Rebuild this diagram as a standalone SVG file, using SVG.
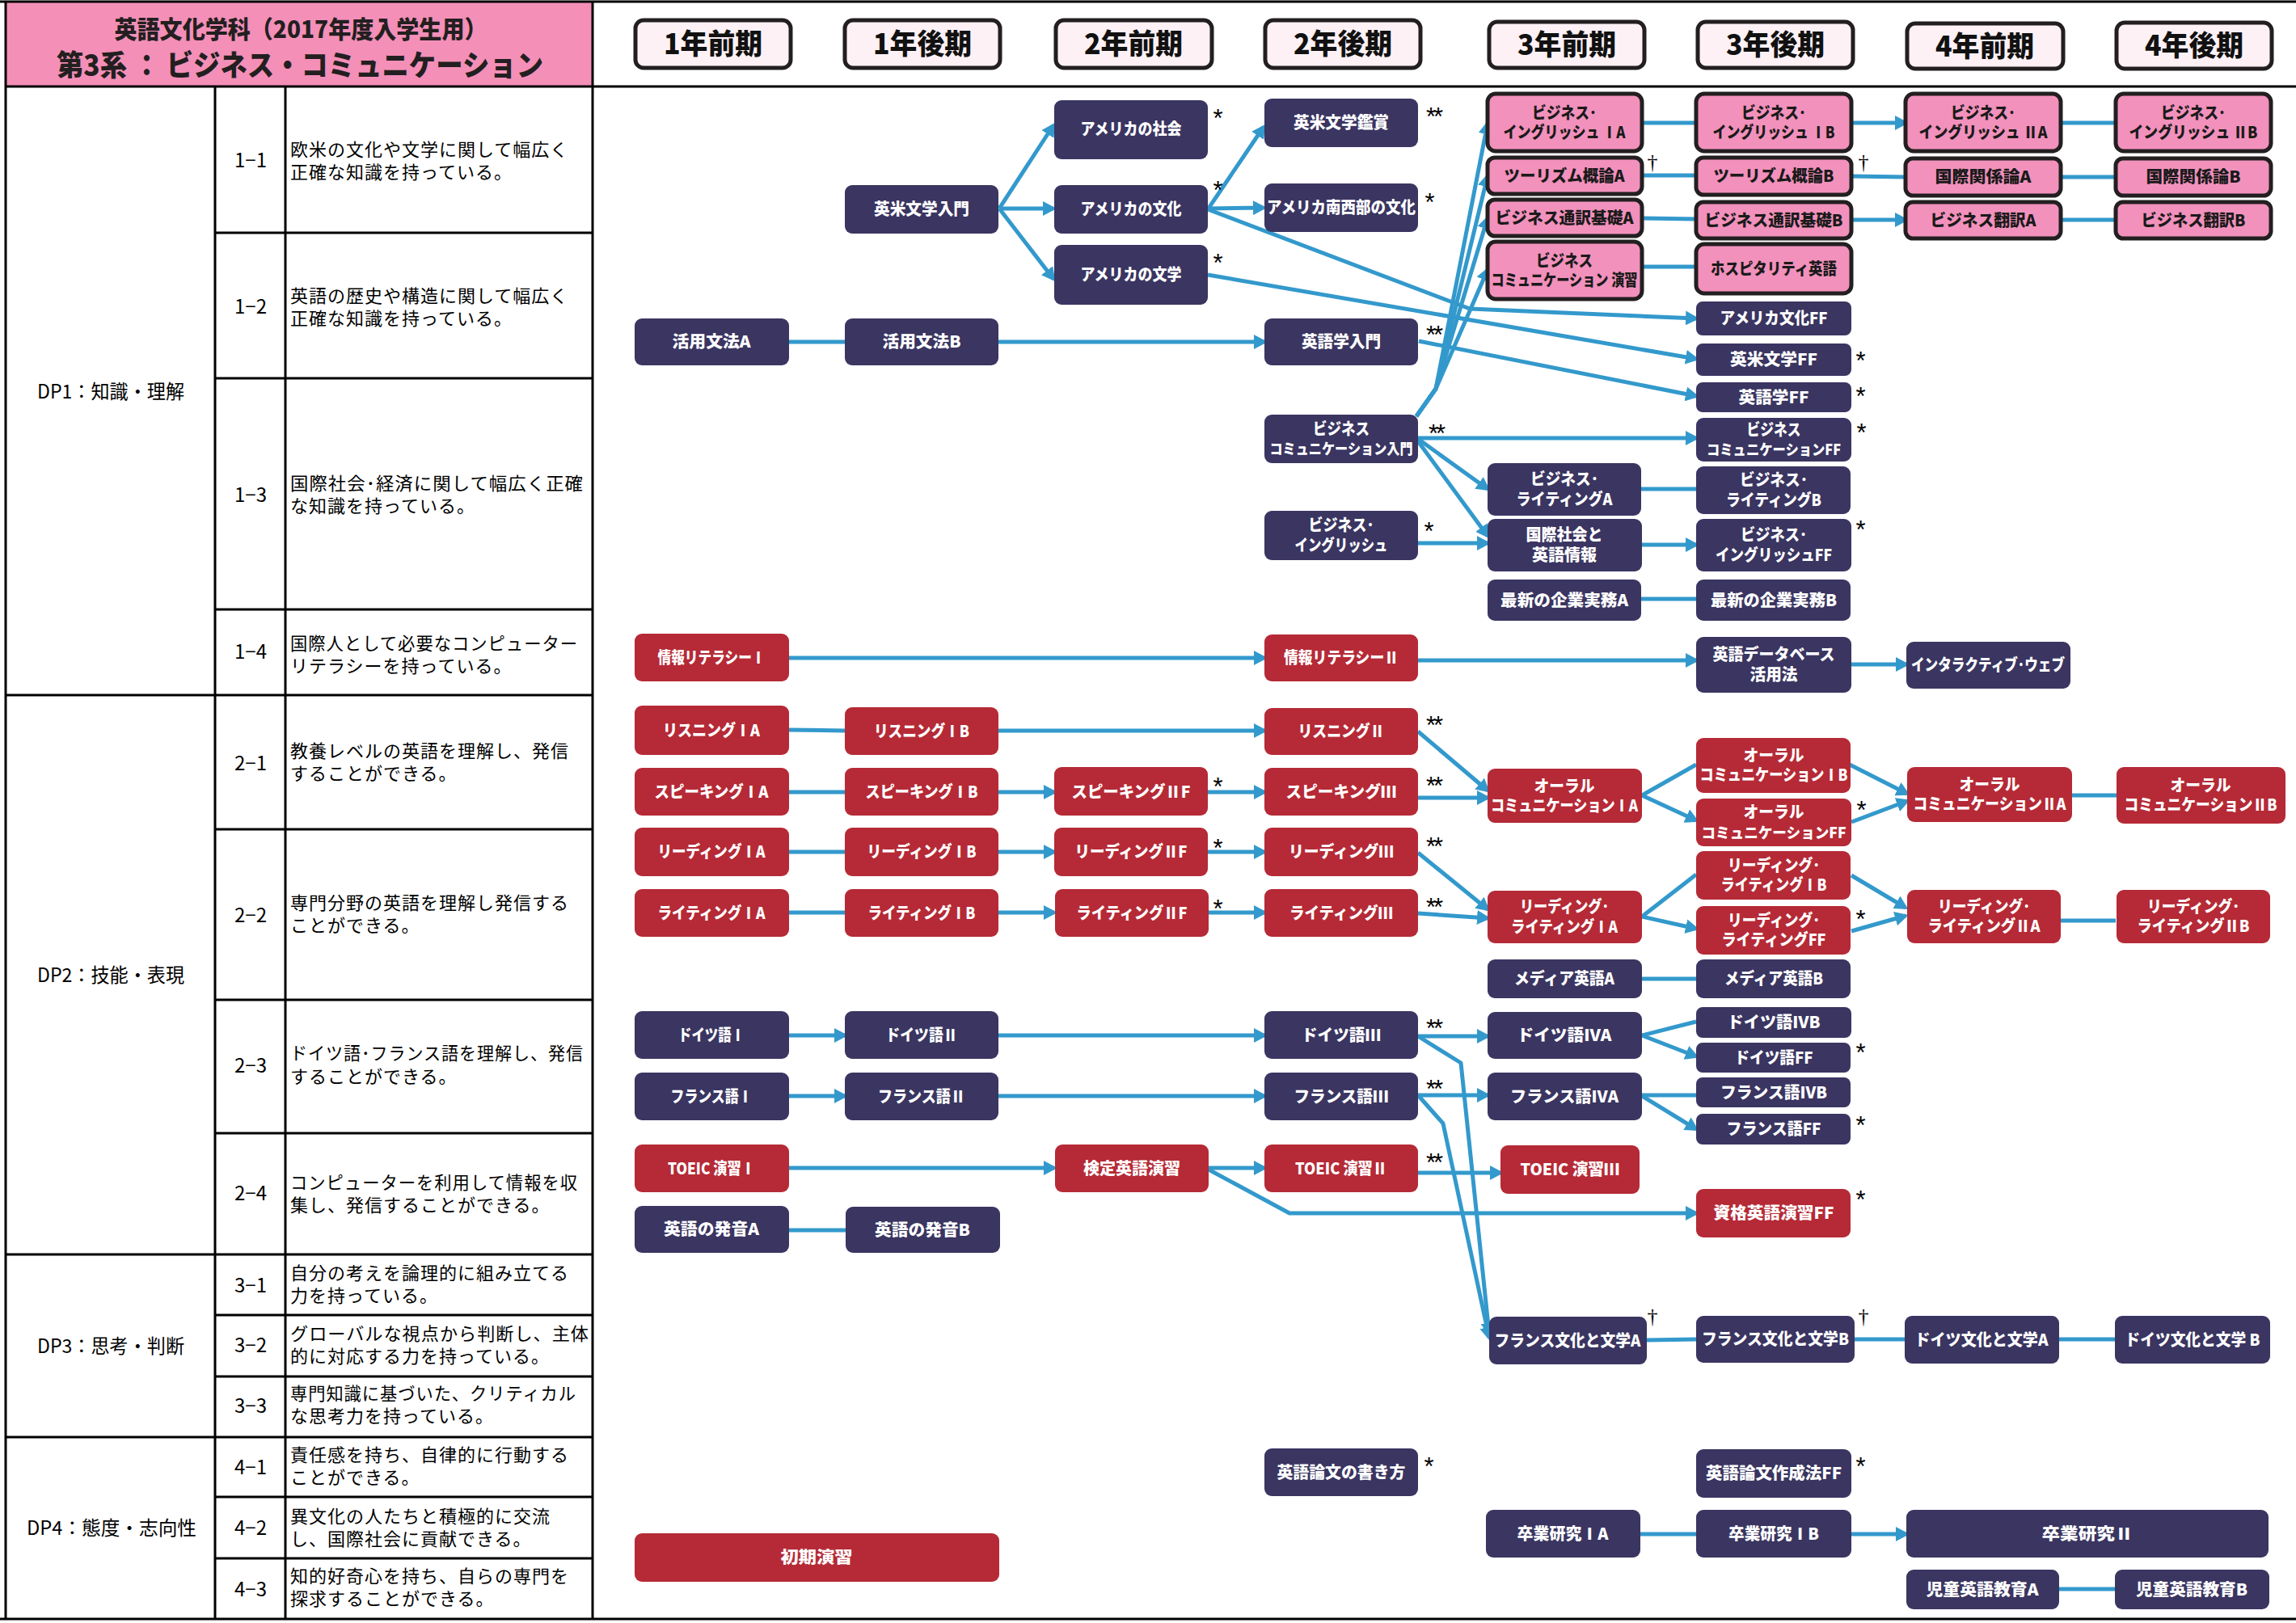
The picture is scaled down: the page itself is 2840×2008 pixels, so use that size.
<svg xmlns="http://www.w3.org/2000/svg" width="2840" height="2008" viewBox="0 0 2840 2008">
<style>
.nd{fill:#3A3561}
.rd{fill:#B52A36}
.pk{fill:#F291BC;stroke:#231F20;stroke-width:5}
.hd{fill:#FDF1F6;stroke:#231F20;stroke-width:5}
.t{font-family:"Noto Sans CJK JP","Noto Sans",sans-serif;font-weight:900;font-size:20px;fill:#fff;text-anchor:middle}
.k{fill:#1a1a1a}
.h{font-family:"Noto Sans CJK JP","Noto Sans",sans-serif;font-weight:900;font-size:35px;fill:#111;text-anchor:middle}
.c{stroke:#3399CC;stroke-width:5;fill:none;stroke-linejoin:round}
.a{marker-end:url(#ah)}
.mk{font-family:"Liberation Sans",sans-serif;font-size:31px;fill:#000;text-anchor:middle;letter-spacing:-3px}
.dg{font-family:"Liberation Serif",serif;font-size:26px;fill:#000;text-anchor:middle}
.tb{stroke:#000;stroke-width:3;fill:none}
.tx{font-family:"Noto Sans CJK JP",sans-serif;font-size:22px;letter-spacing:1px;fill:#000}
.dp{font-family:"Noto Sans CJK JP",sans-serif;font-size:24px;fill:#000;text-anchor:middle}
.tt{font-family:"Noto Sans CJK JP",sans-serif;font-weight:900;fill:#231F20;text-anchor:middle}
</style>
<defs>
<marker id="ah" markerWidth="17" markerHeight="18" refX="13" refY="9" orient="auto" markerUnits="userSpaceOnUse"><path d="M0,0 L17,9 L0,18 Z" fill="#3399CC"/></marker>
</defs>
<rect width="2840" height="2008" fill="#fff"/>

<g id="table">
<rect x="7" y="3" width="726" height="104" fill="#F48FB8"/>
<text class="tt"><tspan x="372" y="47" font-size="30" textLength="461" lengthAdjust="spacingAndGlyphs">英語文化学科（2017年度入学生用）</tspan><tspan x="371" y="94" font-size="36" textLength="602" lengthAdjust="spacingAndGlyphs">第3系 ： ビジネス・コミュニケーション</tspan></text>
<path class="tb" d="M0,2 H2840 M7,107 H2840 M0,2003 H2840 M7,2 V2003 M733,2 V2003 M266,107 V2003 M353,107 V2003 M7,860 H733 M7,1552 H733 M7,1778 H733 M266,288 H733 M266,468 H733 M266,754 H733 M266,1026 H733 M266,1237 H733 M266,1402 H733 M266,1627 H733 M266,1703 H733 M266,1852 H733 M266,1928 H733"/>
<text class="dp" x="137" y="493" textLength="182" lengthAdjust="spacingAndGlyphs">DP1：知識・理解</text>
<text class="dp" x="137" y="1215" textLength="182" lengthAdjust="spacingAndGlyphs">DP2：技能・表現</text>
<text class="dp" x="137" y="1674" textLength="182" lengthAdjust="spacingAndGlyphs">DP3：思考・判断</text>
<text class="dp" x="138" y="1899" textLength="210" lengthAdjust="spacingAndGlyphs">DP4：態度・志向性</text>
<text class="dp" x="310" y="207">1−1</text>
<text class="dp" x="310" y="388">1−2</text>
<text class="dp" x="310" y="621">1−3</text>
<text class="dp" x="310" y="815">1−4</text>
<text class="dp" x="310" y="953">2−1</text>
<text class="dp" x="310" y="1141">2−2</text>
<text class="dp" x="310" y="1327">2−3</text>
<text class="dp" x="310" y="1485">2−4</text>
<text class="dp" x="310" y="1599">3−1</text>
<text class="dp" x="310" y="1673">3−2</text>
<text class="dp" x="310" y="1748">3−3</text>
<text class="dp" x="310" y="1824">4−1</text>
<text class="dp" x="310" y="1899">4−2</text>
<text class="dp" x="310" y="1975">4−3</text>
<text class="tx"><tspan x="359" y="193">欧米の文化や文学に関して幅広く</tspan><tspan x="359" y="221">正確な知識を持っている。</tspan></text>
<text class="tx"><tspan x="359" y="374">英語の歴史や構造に関して幅広く</tspan><tspan x="359" y="402">正確な知識を持っている。</tspan></text>
<text class="tx"><tspan x="359" y="606" textLength="363" lengthAdjust="spacingAndGlyphs">国際社会･経済に関して幅広く正確</tspan><tspan x="359" y="634">な知識を持っている。</tspan></text>
<text class="tx"><tspan x="359" y="804" textLength="356" lengthAdjust="spacingAndGlyphs">国際人として必要なコンピューター</tspan><tspan x="359" y="832">リテラシーを持っている。</tspan></text>
<text class="tx"><tspan x="359" y="937">教養レベルの英語を理解し、発信</tspan><tspan x="359" y="965">することができる。</tspan></text>
<text class="tx"><tspan x="359" y="1125">専門分野の英語を理解し発信する</tspan><tspan x="359" y="1153">ことができる。</tspan></text>
<text class="tx"><tspan x="359" y="1311" textLength="363" lengthAdjust="spacingAndGlyphs">ドイツ語･フランス語を理解し、発信</tspan><tspan x="359" y="1340">することができる。</tspan></text>
<text class="tx"><tspan x="359" y="1471" textLength="356" lengthAdjust="spacingAndGlyphs">コンピューターを利用して情報を収</tspan><tspan x="359" y="1499">集し、発信することができる。</tspan></text>
<text class="tx"><tspan x="359" y="1583">自分の考えを論理的に組み立てる</tspan><tspan x="359" y="1611">力を持っている。</tspan></text>
<text class="tx"><tspan x="359" y="1658" textLength="370" lengthAdjust="spacingAndGlyphs">グローバルな視点から判断し、主体</tspan><tspan x="359" y="1686">的に対応する力を持っている。</tspan></text>
<text class="tx"><tspan x="359" y="1732" textLength="354" lengthAdjust="spacingAndGlyphs">専門知識に基づいた、クリティカル</tspan><tspan x="359" y="1760">な思考力を持っている。</tspan></text>
<text class="tx"><tspan x="359" y="1808">責任感を持ち、自律的に行動する</tspan><tspan x="359" y="1836">ことができる。</tspan></text>
<text class="tx"><tspan x="359" y="1884">異文化の人たちと積極的に交流</tspan><tspan x="359" y="1912">し、国際社会に貢献できる。</tspan></text>
<text class="tx"><tspan x="359" y="1958">知的好奇心を持ち、自らの専門を</tspan><tspan x="359" y="1986">探求することができる。</tspan></text>
</g>

<g id="headers">
<g id="h1"><rect class="hd" x="786" y="25" width="192" height="59" rx="10"/><text class="h" x="882" y="67" textLength="122" lengthAdjust="spacingAndGlyphs">1年前期</text></g>
<g id="h2"><rect class="hd" x="1045" y="25" width="192" height="59" rx="10"/><text class="h" x="1141" y="67" textLength="122" lengthAdjust="spacingAndGlyphs">1年後期</text></g>
<g id="h3"><rect class="hd" x="1306" y="25" width="193" height="59" rx="10"/><text class="h" x="1402" y="67" textLength="122" lengthAdjust="spacingAndGlyphs">2年前期</text></g>
<g id="h4"><rect class="hd" x="1565" y="25" width="192" height="59" rx="10"/><text class="h" x="1661" y="67" textLength="122" lengthAdjust="spacingAndGlyphs">2年後期</text></g>
<g id="h5"><rect class="hd" x="1842" y="27" width="192" height="57" rx="10"/><text class="h" x="1938" y="68" textLength="122" lengthAdjust="spacingAndGlyphs">3年前期</text></g>
<g id="h6"><rect class="hd" x="2100" y="27" width="192" height="57" rx="10"/><text class="h" x="2196" y="68" textLength="122" lengthAdjust="spacingAndGlyphs">3年後期</text></g>
<g id="h7"><rect class="hd" x="2359" y="29" width="193" height="56" rx="10"/><text class="h" x="2455" y="70" textLength="122" lengthAdjust="spacingAndGlyphs">4年前期</text></g>
<g id="h8"><rect class="hd" x="2618" y="28" width="192" height="57" rx="10"/><text class="h" x="2714" y="69" textLength="122" lengthAdjust="spacingAndGlyphs">4年後期</text></g>
</g>

<g id="connectors">
<path class="c a" d="M1236,258 L1303,155"/>
<path class="c a" d="M1236,258 L1303,258"/>
<path class="c a" d="M1236,258 L1303,345"/>
<path class="c a" d="M1494,259 L1563,157"/>
<path class="c a" d="M1494,258 L1563,257"/>
<path class="c a" d="M1494,259 L1818,382 L2098,394"/>
<path class="c a" d="M1494,340 L2098,444"/>
<path class="c a" d="M1755,422 L2098,490"/>
<path class="c" d="M976,423 L1045,423"/>
<path class="c a" d="M1235,423 L1564,423"/>
<path class="c a" d="M1752,515 L1776,481 L1840,153"/>
<path class="c a" d="M1752,515 L1776,481 L1840,218"/>
<path class="c a" d="M1752,515 L1776,481 L1840,270"/>
<path class="c a" d="M1752,515 L1776,481 L1840,334"/>
<path class="c a" d="M1754,542 L2098,542"/>
<path class="c a" d="M1754,543 L1840,605"/>
<path class="c a" d="M1754,546 L1840,663"/>
<path class="c a" d="M1754,672 L1840,672"/>
<path class="c" d="M2031,152 L2098,152"/>
<path class="c a" d="M2290,152 L2357,152"/>
<path class="c" d="M2549,152 L2617,152"/>
<path class="c" d="M2031,217 L2098,217"/>
<path class="c" d="M2290,218 L2357,219"/>
<path class="c" d="M2549,219 L2617,219"/>
<path class="c" d="M2031,270 L2098,271"/>
<path class="c a" d="M2290,272 L2357,272"/>
<path class="c" d="M2549,272 L2617,272"/>
<path class="c" d="M2031,330 L2098,330"/>
<path class="c" d="M2029,605 L2098,605"/>
<path class="c a" d="M2031,674 L2098,674"/>
<path class="c" d="M2029,741 L2098,741"/>
<path class="c a" d="M976,814 L1564,814"/>
<path class="c a" d="M1754,817 L2098,817"/>
<path class="c a" d="M2290,822 L2358,822"/>

<path class="c" d="M976,903 L1045,904"/>
<path class="c a" d="M1235,904 L1564,904"/>
<path class="c a" d="M1754,905 L1840,978"/>
<path class="c" d="M976,980 L1045,980"/>
<path class="c a" d="M1235,980 L1304,980"/>
<path class="c a" d="M1494,980 L1564,980"/>
<path class="c a" d="M1754,987 L1840,987"/>
<path class="c" d="M976,1054 L1045,1054"/>
<path class="c a" d="M1235,1054 L1304,1054"/>
<path class="c a" d="M1494,1054 L1564,1054"/>
<path class="c a" d="M1754,1055 L1840,1125"/>
<path class="c" d="M976,1129 L1045,1129"/>
<path class="c a" d="M1235,1129 L1304,1129"/>
<path class="c a" d="M1495,1129 L1564,1129"/>
<path class="c a" d="M1754,1130 L1840,1136"/>
<path class="c" d="M2031,984 L2098,946"/>
<path class="c a" d="M2031,984 L2098,1015"/>
<path class="c a" d="M2288,946 L2359,982"/>
<path class="c a" d="M2290,1017 L2359,991"/>
<path class="c" d="M2563,984 L2618,984"/>
<path class="c" d="M2031,1134 L2098,1082"/>
<path class="c a" d="M2031,1134 L2098,1149"/>
<path class="c a" d="M2290,1083 L2357,1123"/>
<path class="c a" d="M2290,1152 L2357,1133"/>
<path class="c" d="M2549,1139 L2617,1139"/>
<path class="c" d="M2031,1211 L2098,1211"/>
<path class="c a" d="M976,1281 L1045,1281"/>
<path class="c a" d="M1235,1281 L1564,1281"/>
<path class="c a" d="M1754,1282 L1840,1282"/>
<path class="c a" d="M1754,1282 L1807,1315 L1842,1650"/>
<path class="c a" d="M976,1356 L1045,1356"/>
<path class="c a" d="M1235,1356 L1564,1356"/>
<path class="c a" d="M1754,1355 L1840,1355"/>
<path class="c a" d="M1754,1355 L1785,1390 L1842,1655"/>
<path class="c" d="M2031,1281 L2098,1264"/>
<path class="c a" d="M2031,1281 L2098,1307"/>
<path class="c" d="M2031,1355 L2098,1355"/>
<path class="c a" d="M2031,1356 L2098,1397"/>
<path class="c a" d="M976,1445 L1304,1445"/>
<path class="c a" d="M1495,1445 L1564,1445"/>
<path class="c a" d="M1495,1447 L1595,1501 L2098,1501"/>
<path class="c a" d="M1754,1451 L1856,1451"/>
<path class="c" d="M976,1522 L1046,1522"/>
<path class="c" d="M2037,1658 L2098,1657"/>
<path class="c" d="M2294,1657 L2356,1657"/>
<path class="c" d="M2547,1657 L2616,1657"/>
<path class="c" d="M2029,1898 L2098,1898"/>
<path class="c a" d="M2290,1898 L2358,1898"/>
<path class="c" d="M2547,1966 L2616,1966"/>
</g>

<g id="nodes">
<g id="n-amsoc"><rect class="nd" x="1304" y="124" width="190" height="73" rx="9"/><text class="t" x="1399" y="167" textLength="125" lengthAdjust="spacingAndGlyphs">アメリカの社会</text></g>
<g id="n-eibunkansho"><rect class="nd" x="1564" y="122" width="190" height="60" rx="9"/><text class="t" x="1659" y="159" textLength="118" lengthAdjust="spacingAndGlyphs">英米文学鑑賞</text></g>
<g id="n-eibunnyumon"><rect class="nd" x="1045" y="229" width="190" height="60" rx="9"/><text class="t" x="1140" y="266" textLength="118" lengthAdjust="spacingAndGlyphs">英米文学入門</text></g>
<g id="n-amcul"><rect class="nd" x="1304" y="229" width="190" height="60" rx="9"/><text class="t" x="1399" y="266" textLength="125" lengthAdjust="spacingAndGlyphs">アメリカの文化</text></g>
<g id="n-amsw"><rect class="nd" x="1564" y="227" width="190" height="60" rx="9"/><text class="t" x="1659" y="264" font-size="19" textLength="184" lengthAdjust="spacingAndGlyphs">アメリカ南西部の文化</text></g>
<g id="n-amlit"><rect class="nd" x="1304" y="303" width="190" height="74" rx="9"/><text class="t" x="1399" y="347" textLength="125" lengthAdjust="spacingAndGlyphs">アメリカの文学</text></g>
<g id="n-katsuyoA"><rect class="nd" x="785" y="394" width="191" height="58" rx="9"/><text class="t" x="880" y="430" textLength="97" lengthAdjust="spacingAndGlyphs">活用文法A</text></g>
<g id="n-katsuyoB"><rect class="nd" x="1045" y="394" width="190" height="58" rx="9"/><text class="t" x="1140" y="430" textLength="97" lengthAdjust="spacingAndGlyphs">活用文法B</text></g>
<g id="n-eigogaku"><rect class="nd" x="1564" y="394" width="190" height="58" rx="9"/><text class="t" x="1659" y="430" textLength="98" lengthAdjust="spacingAndGlyphs">英語学入門</text></g>

<g id="n-beIA"><rect class="pk" x="1840" y="116" width="191" height="71" rx="10"/><text class="t k"><tspan x="1935" y="147" textLength="80" lengthAdjust="spacingAndGlyphs">ビジネス･</tspan><tspan x="1935" y="171" textLength="151" lengthAdjust="spacingAndGlyphs">イングリッシュ ⅠA</tspan></text></g>
<g id="n-beIB"><rect class="pk" x="2098" y="116" width="192" height="71" rx="10"/><text class="t k"><tspan x="2194" y="147" textLength="80" lengthAdjust="spacingAndGlyphs">ビジネス･</tspan><tspan x="2194" y="171" textLength="151" lengthAdjust="spacingAndGlyphs">イングリッシュ ⅠB</tspan></text></g>
<g id="n-beIIA"><rect class="pk" x="2357" y="116" width="192" height="71" rx="10"/><text class="t k"><tspan x="2453" y="147" textLength="80" lengthAdjust="spacingAndGlyphs">ビジネス･</tspan><tspan x="2453" y="171" textLength="159" lengthAdjust="spacingAndGlyphs">イングリッシュ ⅡA</tspan></text></g>
<g id="n-beIIB"><rect class="pk" x="2617" y="116" width="192" height="71" rx="10"/><text class="t k"><tspan x="2713" y="147" textLength="80" lengthAdjust="spacingAndGlyphs">ビジネス･</tspan><tspan x="2713" y="171" textLength="159" lengthAdjust="spacingAndGlyphs">イングリッシュ ⅡB</tspan></text></g>
<g id="n-tourA"><rect class="pk" x="1840" y="195" width="191" height="45" rx="9"/><text class="t k" x="1935" y="225" textLength="149" lengthAdjust="spacingAndGlyphs">ツーリズム概論A</text></g>
<g id="n-tourB"><rect class="pk" x="2098" y="195" width="192" height="46" rx="9"/><text class="t k" x="2194" y="225" textLength="149" lengthAdjust="spacingAndGlyphs">ツーリズム概論B</text></g>
<g id="n-irA"><rect class="pk" x="2357" y="196" width="192" height="46" rx="9"/><text class="t k" x="2453" y="226" textLength="119" lengthAdjust="spacingAndGlyphs">国際関係論A</text></g>
<g id="n-irB"><rect class="pk" x="2617" y="196" width="192" height="46" rx="9"/><text class="t k" x="2713" y="226" textLength="117" lengthAdjust="spacingAndGlyphs">国際関係論B</text></g>
<g id="n-tsuyakuA"><rect class="pk" x="1840" y="247" width="191" height="45" rx="9"/><text class="t k" x="1935" y="277" textLength="171" lengthAdjust="spacingAndGlyphs">ビジネス通訳基礎A</text></g>
<g id="n-tsuyakuB"><rect class="pk" x="2098" y="250" width="192" height="45" rx="9"/><text class="t k" x="2194" y="280" textLength="171" lengthAdjust="spacingAndGlyphs">ビジネス通訳基礎B</text></g>
<g id="n-honyakuA"><rect class="pk" x="2357" y="250" width="192" height="45" rx="9"/><text class="t k" x="2453" y="280" textLength="131" lengthAdjust="spacingAndGlyphs">ビジネス翻訳A</text></g>
<g id="n-honyakuB"><rect class="pk" x="2617" y="250" width="192" height="45" rx="9"/><text class="t k" x="2713" y="280" textLength="129" lengthAdjust="spacingAndGlyphs">ビジネス翻訳B</text></g>
<g id="n-bcEnshu"><rect class="pk" x="1840" y="299" width="191" height="71" rx="10"/><text class="t k"><tspan x="1935" y="330" textLength="70" lengthAdjust="spacingAndGlyphs">ビジネス</tspan><tspan x="1935" y="354" textLength="181" lengthAdjust="spacingAndGlyphs">コミュニケーション 演習</tspan></text></g>
<g id="n-hospitality"><rect class="pk" x="2098" y="302" width="192" height="61" rx="10"/><text class="t k" x="2194" y="340" textLength="156" lengthAdjust="spacingAndGlyphs">ホスピタリティ英語</text></g>
<g id="n-amculFF"><rect class="nd" x="2098" y="373" width="192" height="42" rx="8"/><text class="t" x="2194" y="401" textLength="133" lengthAdjust="spacingAndGlyphs">アメリカ文化FF</text></g>
<g id="n-eibunFF"><rect class="nd" x="2098" y="425" width="192" height="40" rx="8"/><text class="t" x="2194" y="452" textLength="108" lengthAdjust="spacingAndGlyphs">英米文学FF</text></g>
<g id="n-eigogakuFF"><rect class="nd" x="2098" y="473" width="192" height="37" rx="8"/><text class="t" x="2194" y="499" textLength="87" lengthAdjust="spacingAndGlyphs">英語学FF</text></g>
<g id="n-bcNyumon"><rect class="nd" x="1564" y="513" width="190" height="60" rx="9"/><text class="t"><tspan x="1659" y="538" textLength="70" lengthAdjust="spacingAndGlyphs">ビジネス</tspan><tspan x="1659" y="562" font-size="18" textLength="177" lengthAdjust="spacingAndGlyphs">コミュニケーション入門</tspan></text></g>
<g id="n-bcFF"><rect class="nd" x="2098" y="517" width="192" height="54" rx="9"/><text class="t"><tspan x="2194" y="539" textLength="67" lengthAdjust="spacingAndGlyphs">ビジネス</tspan><tspan x="2194" y="563" font-size="18" textLength="166" lengthAdjust="spacingAndGlyphs">コミュニケーションFF</tspan></text></g>
<g id="n-bwA"><rect class="nd" x="1840" y="573" width="190" height="65" rx="9"/><text class="t"><tspan x="1935" y="600" textLength="84" lengthAdjust="spacingAndGlyphs">ビジネス･</tspan><tspan x="1935" y="625" textLength="119" lengthAdjust="spacingAndGlyphs">ライティングA</tspan></text></g>
<g id="n-bwB"><rect class="nd" x="2098" y="577" width="191" height="59" rx="9"/><text class="t"><tspan x="2194" y="601" textLength="84" lengthAdjust="spacingAndGlyphs">ビジネス･</tspan><tspan x="2194" y="626" textLength="118" lengthAdjust="spacingAndGlyphs">ライティングB</tspan></text></g>
<g id="n-be2"><rect class="nd" x="1564" y="632" width="190" height="61" rx="9"/><text class="t"><tspan x="1659" y="657" textLength="81" lengthAdjust="spacingAndGlyphs">ビジネス･</tspan><tspan x="1659" y="682" textLength="115" lengthAdjust="spacingAndGlyphs">イングリッシュ</tspan></text></g>
<g id="n-kokusai"><rect class="nd" x="1840" y="642" width="191" height="65" rx="9"/><text class="t"><tspan x="1935" y="669" textLength="95" lengthAdjust="spacingAndGlyphs">国際社会と</tspan><tspan x="1935" y="694" textLength="80" lengthAdjust="spacingAndGlyphs">英語情報</tspan></text></g>
<g id="n-beFF"><rect class="nd" x="2098" y="642" width="192" height="65" rx="9"/><text class="t"><tspan x="2194" y="669" textLength="82" lengthAdjust="spacingAndGlyphs">ビジネス･</tspan><tspan x="2194" y="694" textLength="144" lengthAdjust="spacingAndGlyphs">イングリッシュFF</tspan></text></g>
<g id="n-kigyoA"><rect class="nd" x="1840" y="717" width="190" height="51" rx="9"/><text class="t" x="1935" y="750" textLength="158" lengthAdjust="spacingAndGlyphs">最新の企業実務A</text></g>
<g id="n-kigyoB"><rect class="nd" x="2098" y="717" width="191" height="51" rx="9"/><text class="t" x="2194" y="750" textLength="156" lengthAdjust="spacingAndGlyphs">最新の企業実務B</text></g>
<g id="n-johoI"><rect class="rd" x="785" y="784" width="191" height="59" rx="9"/><text class="t" x="880" y="821" textLength="133" lengthAdjust="spacingAndGlyphs">情報リテラシーⅠ</text></g>
<g id="n-johoII"><rect class="rd" x="1564" y="785" width="190" height="58" rx="9"/><text class="t" x="1659" y="821" textLength="142" lengthAdjust="spacingAndGlyphs">情報リテラシーⅡ</text></g>
<g id="n-database"><rect class="nd" x="2098" y="788" width="192" height="69" rx="9"/><text class="t"><tspan x="2194" y="817" textLength="151" lengthAdjust="spacingAndGlyphs">英語データベース</tspan><tspan x="2194" y="842" textLength="59" lengthAdjust="spacingAndGlyphs">活用法</tspan></text></g>
<g id="n-interactive"><rect class="nd" x="2358" y="794" width="203" height="58" rx="9"/><text class="t" x="2459" y="830" textLength="190" lengthAdjust="spacingAndGlyphs">インタラクティブ･ウェブ</text></g>

<g id="n-lisIA"><rect class="rd" x="785" y="873" width="191" height="61" rx="9"/><text class="t" x="880" y="911" textLength="120" lengthAdjust="spacingAndGlyphs">リスニングⅠA</text></g>
<g id="n-lisIB"><rect class="rd" x="1045" y="875" width="190" height="59" rx="9"/><text class="t" x="1140" y="912" textLength="118" lengthAdjust="spacingAndGlyphs">リスニングⅠB</text></g>
<g id="n-lisII"><rect class="rd" x="1564" y="876" width="190" height="58" rx="9"/><text class="t" x="1659" y="912" textLength="107" lengthAdjust="spacingAndGlyphs">リスニングⅡ</text></g>
<g id="n-spkIA"><rect class="rd" x="785" y="950" width="191" height="59" rx="9"/><text class="t" x="880" y="987" textLength="141" lengthAdjust="spacingAndGlyphs">スピーキングⅠA</text></g>
<g id="n-spkIB"><rect class="rd" x="1045" y="950" width="190" height="59" rx="9"/><text class="t" x="1140" y="987" textLength="139" lengthAdjust="spacingAndGlyphs">スピーキングⅠB</text></g>
<g id="n-spkIIF"><rect class="rd" x="1304" y="949" width="190" height="60" rx="9"/><text class="t" x="1399" y="987" textLength="147" lengthAdjust="spacingAndGlyphs">スピーキングⅡF</text></g>
<g id="n-spkIII"><rect class="rd" x="1564" y="950" width="190" height="59" rx="9"/><text class="t" x="1659" y="987" textLength="137" lengthAdjust="spacingAndGlyphs">スピーキングⅢ</text></g>
<g id="n-rdIA"><rect class="rd" x="785" y="1024" width="191" height="60" rx="9"/><text class="t" x="880" y="1061" textLength="133" lengthAdjust="spacingAndGlyphs">リーディングⅠA</text></g>
<g id="n-rdIB"><rect class="rd" x="1045" y="1024" width="190" height="60" rx="9"/><text class="t" x="1140" y="1061" textLength="135" lengthAdjust="spacingAndGlyphs">リーディングⅠB</text></g>
<g id="n-rdIIF"><rect class="rd" x="1304" y="1024" width="190" height="60" rx="9"/><text class="t" x="1399" y="1061" textLength="139" lengthAdjust="spacingAndGlyphs">リーディングⅡF</text></g>
<g id="n-rdIII"><rect class="rd" x="1564" y="1024" width="190" height="60" rx="9"/><text class="t" x="1659" y="1061" textLength="130" lengthAdjust="spacingAndGlyphs">リーディングⅢ</text></g>
<g id="n-wrIA"><rect class="rd" x="785" y="1100" width="191" height="59" rx="9"/><text class="t" x="880" y="1137" textLength="133" lengthAdjust="spacingAndGlyphs">ライティングⅠA</text></g>
<g id="n-wrIB"><rect class="rd" x="1045" y="1100" width="190" height="59" rx="9"/><text class="t" x="1140" y="1137" textLength="133" lengthAdjust="spacingAndGlyphs">ライティングⅠB</text></g>
<g id="n-wrIIF"><rect class="rd" x="1305" y="1100" width="190" height="59" rx="9"/><text class="t" x="1400" y="1137" textLength="137" lengthAdjust="spacingAndGlyphs">ライティングⅡF</text></g>
<g id="n-wrIII"><rect class="rd" x="1564" y="1100" width="190" height="59" rx="9"/><text class="t" x="1659" y="1137" textLength="128" lengthAdjust="spacingAndGlyphs">ライティングⅢ</text></g>
<g id="n-oralIA"><rect class="rd" x="1840" y="951" width="191" height="67" rx="9"/><text class="t"><tspan x="1935" y="980" textLength="75" lengthAdjust="spacingAndGlyphs">オーラル</tspan><tspan x="1935" y="1004" textLength="182" lengthAdjust="spacingAndGlyphs">コミュニケーションⅠA</tspan></text></g>
<g id="n-oralIB"><rect class="rd" x="2098" y="913" width="191" height="68" rx="9"/><text class="t"><tspan x="2194" y="942" textLength="75" lengthAdjust="spacingAndGlyphs">オーラル</tspan><tspan x="2194" y="966" textLength="183" lengthAdjust="spacingAndGlyphs">コミュニケーションⅠB</tspan></text></g>
<g id="n-oralFF"><rect class="rd" x="2098" y="988" width="192" height="59" rx="9"/><text class="t"><tspan x="2194" y="1012" textLength="75" lengthAdjust="spacingAndGlyphs">オーラル</tspan><tspan x="2194" y="1037" font-size="18" textLength="179" lengthAdjust="spacingAndGlyphs">コミュニケーションFF</tspan></text></g>
<g id="n-oralIIA"><rect class="rd" x="2359" y="949" width="204" height="68" rx="9"/><text class="t"><tspan x="2461" y="978" textLength="75" lengthAdjust="spacingAndGlyphs">オーラル</tspan><tspan x="2461" y="1002" textLength="189" lengthAdjust="spacingAndGlyphs">コミュニケーションⅡA</tspan></text></g>
<g id="n-oralIIB"><rect class="rd" x="2618" y="949" width="209" height="70" rx="9"/><text class="t"><tspan x="2722" y="979" textLength="75" lengthAdjust="spacingAndGlyphs">オーラル</tspan><tspan x="2722" y="1003" textLength="189" lengthAdjust="spacingAndGlyphs">コミュニケーションⅡB</tspan></text></g>
<g id="n-rwIA"><rect class="rd" x="1840" y="1102" width="191" height="65" rx="9"/><text class="t"><tspan x="1935" y="1129" textLength="110" lengthAdjust="spacingAndGlyphs">リーディング･</tspan><tspan x="1935" y="1154" textLength="132" lengthAdjust="spacingAndGlyphs">ライティングⅠA</tspan></text></g>
<g id="n-rwIB"><rect class="rd" x="2098" y="1053" width="191" height="60" rx="9"/><text class="t"><tspan x="2194" y="1078" textLength="114" lengthAdjust="spacingAndGlyphs">リーディング･</tspan><tspan x="2194" y="1102" textLength="131" lengthAdjust="spacingAndGlyphs">ライティングⅠB</tspan></text></g>
<g id="n-rwFF"><rect class="rd" x="2098" y="1121" width="191" height="60" rx="9"/><text class="t"><tspan x="2194" y="1146" textLength="114" lengthAdjust="spacingAndGlyphs">リーディング･</tspan><tspan x="2194" y="1170" textLength="129" lengthAdjust="spacingAndGlyphs">ライティングFF</tspan></text></g>
<g id="n-rwIIA"><rect class="rd" x="2359" y="1101" width="190" height="66" rx="9"/><text class="t"><tspan x="2454" y="1129" textLength="114" lengthAdjust="spacingAndGlyphs">リーディング･</tspan><tspan x="2454" y="1153" textLength="139" lengthAdjust="spacingAndGlyphs">ライティングⅡA</tspan></text></g>
<g id="n-rwIIB"><rect class="rd" x="2618" y="1101" width="190" height="66" rx="9"/><text class="t"><tspan x="2713" y="1129" textLength="114" lengthAdjust="spacingAndGlyphs">リーディング･</tspan><tspan x="2713" y="1153" textLength="139" lengthAdjust="spacingAndGlyphs">ライティングⅡB</tspan></text></g>
<g id="n-mediaA"><rect class="nd" x="1840" y="1187" width="191" height="48" rx="9"/><text class="t" x="1935" y="1218" textLength="124" lengthAdjust="spacingAndGlyphs">メディア英語A</text></g>
<g id="n-mediaB"><rect class="nd" x="2098" y="1187" width="191" height="48" rx="9"/><text class="t" x="2194" y="1218" textLength="122" lengthAdjust="spacingAndGlyphs">メディア英語B</text></g>
<g id="n-deI"><rect class="nd" x="785" y="1251" width="191" height="59" rx="9"/><text class="t" x="880" y="1288" textLength="82" lengthAdjust="spacingAndGlyphs">ドイツ語Ⅰ</text></g>
<g id="n-deII"><rect class="nd" x="1045" y="1251" width="190" height="59" rx="9"/><text class="t" x="1140" y="1288" textLength="89" lengthAdjust="spacingAndGlyphs">ドイツ語Ⅱ</text></g>
<g id="n-deIII"><rect class="nd" x="1564" y="1251" width="190" height="59" rx="9"/><text class="t" x="1659" y="1288" textLength="98" lengthAdjust="spacingAndGlyphs">ドイツ語Ⅲ</text></g>
<g id="n-frI"><rect class="nd" x="785" y="1327" width="191" height="59" rx="9"/><text class="t" x="880" y="1364" textLength="101" lengthAdjust="spacingAndGlyphs">フランス語Ⅰ</text></g>
<g id="n-frII"><rect class="nd" x="1045" y="1327" width="190" height="59" rx="9"/><text class="t" x="1140" y="1364" textLength="108" lengthAdjust="spacingAndGlyphs">フランス語Ⅱ</text></g>
<g id="n-frIII"><rect class="nd" x="1564" y="1327" width="190" height="59" rx="9"/><text class="t" x="1659" y="1364" textLength="117" lengthAdjust="spacingAndGlyphs">フランス語Ⅲ</text></g>
<g id="n-deIVA"><rect class="nd" x="1840" y="1252" width="191" height="58" rx="9"/><text class="t" x="1935" y="1288" textLength="117" lengthAdjust="spacingAndGlyphs">ドイツ語ⅣA</text></g>
<g id="n-deIVB"><rect class="nd" x="2098" y="1246" width="192" height="38" rx="8"/><text class="t" x="2194" y="1272" textLength="115" lengthAdjust="spacingAndGlyphs">ドイツ語ⅣB</text></g>
<g id="n-deFF"><rect class="nd" x="2098" y="1290" width="191" height="37" rx="8"/><text class="t" x="2194" y="1316" textLength="97" lengthAdjust="spacingAndGlyphs">ドイツ語FF</text></g>
<g id="n-frIVA"><rect class="nd" x="1840" y="1327" width="191" height="59" rx="9"/><text class="t" x="1935" y="1364" textLength="134" lengthAdjust="spacingAndGlyphs">フランス語ⅣA</text></g>
<g id="n-frIVB"><rect class="nd" x="2098" y="1333" width="191" height="37" rx="8"/><text class="t" x="2194" y="1359" textLength="132" lengthAdjust="spacingAndGlyphs">フランス語ⅣB</text></g>
<g id="n-frFF"><rect class="nd" x="2098" y="1378" width="191" height="38" rx="8"/><text class="t" x="2194" y="1404" textLength="117" lengthAdjust="spacingAndGlyphs">フランス語FF</text></g>
<g id="n-toeicI"><rect class="rd" x="785" y="1416" width="191" height="59" rx="9"/><text class="t" x="880" y="1453" textLength="108" lengthAdjust="spacingAndGlyphs">TOEIC 演習Ⅰ</text></g>
<g id="n-kentei"><rect class="rd" x="1305" y="1416" width="190" height="59" rx="9"/><text class="t" x="1400" y="1453" textLength="120" lengthAdjust="spacingAndGlyphs">検定英語演習</text></g>
<g id="n-toeicII"><rect class="rd" x="1564" y="1416" width="190" height="59" rx="9"/><text class="t" x="1659" y="1453" textLength="114" lengthAdjust="spacingAndGlyphs">TOEIC 演習Ⅱ</text></g>
<g id="n-toeicIII"><rect class="rd" x="1856" y="1417" width="172" height="60" rx="9"/><text class="t" x="1942" y="1454" textLength="123" lengthAdjust="spacingAndGlyphs">TOEIC 演習Ⅲ</text></g>
<g id="n-shikaku"><rect class="rd" x="2098" y="1471" width="191" height="60" rx="9"/><text class="t" x="2194" y="1508" textLength="149" lengthAdjust="spacingAndGlyphs">資格英語演習FF</text></g>
<g id="n-hatsuonA"><rect class="nd" x="785" y="1492" width="191" height="58" rx="9"/><text class="t" x="880" y="1528" textLength="118" lengthAdjust="spacingAndGlyphs">英語の発音A</text></g>
<g id="n-hatsuonB"><rect class="nd" x="1046" y="1493" width="191" height="57" rx="9"/><text class="t" x="1141" y="1529" textLength="118" lengthAdjust="spacingAndGlyphs">英語の発音B</text></g>

<g id="n-frcA"><rect class="nd" x="1842" y="1629" width="195" height="59" rx="9"/><text class="t" x="1939" y="1666" textLength="181" lengthAdjust="spacingAndGlyphs">フランス文化と文学A</text></g>
<g id="n-frcB"><rect class="nd" x="2098" y="1628" width="196" height="58" rx="9"/><text class="t" x="2196" y="1664" font-size="19" textLength="182" lengthAdjust="spacingAndGlyphs">フランス文化と文学B</text></g>
<g id="n-decA"><rect class="nd" x="2356" y="1628" width="191" height="59" rx="9"/><text class="t" x="2451" y="1665" textLength="165" lengthAdjust="spacingAndGlyphs">ドイツ文化と文学A</text></g>
<g id="n-decB"><rect class="nd" x="2616" y="1628" width="192" height="59" rx="9"/><text class="t" x="2712" y="1665" textLength="167" lengthAdjust="spacingAndGlyphs">ドイツ文化と文学 B</text></g>

<g id="n-ronbun"><rect class="nd" x="1564" y="1792" width="190" height="59" rx="9"/><text class="t" x="1659" y="1829" textLength="159" lengthAdjust="spacingAndGlyphs">英語論文の書き方</text></g>
<g id="n-ronbunFF"><rect class="nd" x="2098" y="1793" width="192" height="60" rx="9"/><text class="t" x="2194" y="1830" textLength="168" lengthAdjust="spacingAndGlyphs">英語論文作成法FF</text></g>
<g id="n-sotsuIA"><rect class="nd" x="1838" y="1868" width="191" height="59" rx="9"/><text class="t" x="1933" y="1905" textLength="113" lengthAdjust="spacingAndGlyphs">卒業研究ⅠA</text></g>
<g id="n-sotsuIB"><rect class="nd" x="2098" y="1868" width="192" height="59" rx="9"/><text class="t" x="2194" y="1905" textLength="112" lengthAdjust="spacingAndGlyphs">卒業研究ⅠB</text></g>
<g id="n-sotsuII"><rect class="nd" x="2358" y="1868" width="448" height="59" rx="9"/><text class="t" x="2582" y="1905" textLength="113" lengthAdjust="spacingAndGlyphs">卒業研究Ⅱ</text></g>
<g id="n-jidoA"><rect class="nd" x="2358" y="1942" width="189" height="49" rx="9"/><text class="t" x="2452" y="1974" textLength="139" lengthAdjust="spacingAndGlyphs">児童英語教育A</text></g>
<g id="n-jidoB"><rect class="nd" x="2616" y="1942" width="191" height="49" rx="9"/><text class="t" x="2711" y="1974" textLength="138" lengthAdjust="spacingAndGlyphs">児童英語教育B</text></g>
<g id="n-shoki"><rect class="rd" x="785" y="1897" width="451" height="60" rx="9"/><text class="t" x="1010" y="1934" textLength="89" lengthAdjust="spacingAndGlyphs">初期演習</text></g>
</g>

<g id="marks">
<text class="mk" x="1505" y="157">*</text>
<text class="mk" x="1505" y="246">*</text>
<text class="mk" x="1505" y="336">*</text>
<text class="mk" x="1767" y="261">*</text>
<text class="mk" x="1766" y="668">*</text>
<text class="mk" x="2300" y="457">*</text>
<text class="mk" x="2300" y="501">*</text>
<text class="mk" x="2301" y="546">*</text>
<text class="mk" x="2300" y="666">*</text>
<text class="mk" x="1505" y="984">*</text>
<text class="mk" x="1505" y="1060">*</text>
<text class="mk" x="1505" y="1135">*</text>
<text class="mk" x="2301" y="1013">*</text>
<text class="mk" x="2300" y="1148">*</text>
<text class="mk" x="2300" y="1313">*</text>
<text class="mk" x="2300" y="1403">*</text>
<text class="mk" x="2300" y="1495">*</text>
<text class="mk" x="1766" y="1825">*</text>
<text class="mk" x="2300" y="1825">*</text>
<text class="mk" x="1773" y="155">**</text>
<text class="mk" x="1773" y="425">**</text>
<text class="mk" x="1776" y="547">**</text>
<text class="mk" x="1773" y="908">**</text>
<text class="mk" x="1773" y="983">**</text>
<text class="mk" x="1773" y="1058">**</text>
<text class="mk" x="1773" y="1133">**</text>
<text class="mk" x="1773" y="1283">**</text>
<text class="mk" x="1773" y="1358">**</text>
<text class="mk" x="1773" y="1449">**</text>
<text class="dg" x="2044" y="209">†</text>
<text class="dg" x="2305" y="209">†</text>
<text class="dg" x="2044" y="1637">†</text>
<text class="dg" x="2305" y="1637">†</text>
</g>
</svg>
